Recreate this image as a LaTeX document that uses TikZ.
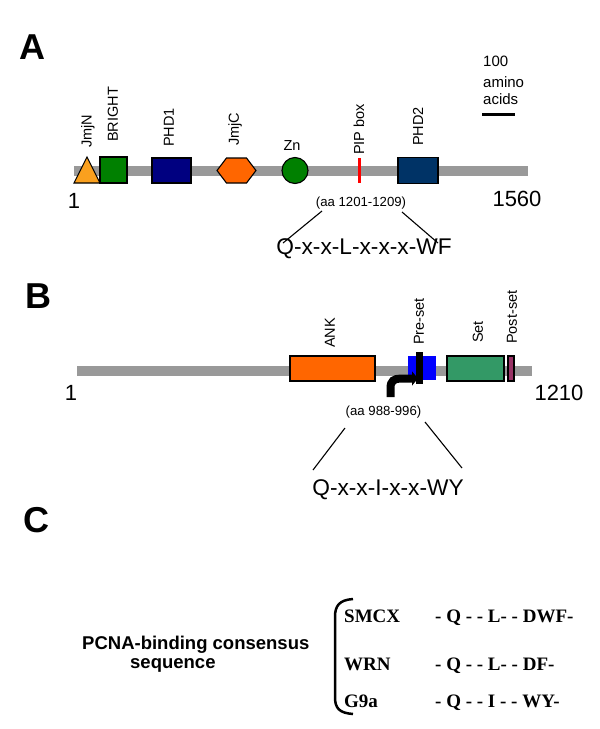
\documentclass[tikz,border=0pt]{standalone}
\usepackage{fontspec}
\setmainfont{Liberation Sans}
\newfontfamily\tms{Liberation Serif}
\usetikzlibrary{arrows.meta}
\definecolor{bargray}{RGB}{153,153,153}
\definecolor{jmjn}{RGB}{250,160,30}
\definecolor{bright}{RGB}{0,128,0}
\definecolor{phdone}{RGB}{0,0,128}
\definecolor{jmjc}{RGB}{255,102,0}
\definecolor{phdtwo}{RGB}{0,51,102}
\definecolor{preset}{RGB}{0,0,255}
\definecolor{setc}{RGB}{51,153,102}
\definecolor{postset}{RGB}{153,51,102}
\tikzset{
  dom/.style={draw=black, line width=1.1pt, inner sep=0pt},
  lab/.style={rotate=90, anchor=west, inner sep=0pt, font=\fontsize{14.5}{16}\selectfont},
  panel/.style={inner sep=0pt, font=\fontsize{36}{40}\selectfont\bfseries},
  endnum/.style={inner sep=0pt, font=\fontsize{22}{24}\selectfont},
  aa/.style={inner sep=0pt, font=\fontsize{13.2}{15}\selectfont},
  motif/.style={inner sep=0pt, font=\fontsize{22.7}{25}\selectfont},
  conn/.style={line width=1.1pt},
  bar/.style={line width=10pt, bargray},
  seqname/.style={inner sep=0pt, anchor=base west, font=\fontsize{19}{21}\selectfont\tms\bfseries},
}
\begin{document}
\begin{tikzpicture}[x=1pt,y=-1pt]
\useasboundingbox (0,0) rectangle (600,729);
\fill[white] (0,0) rectangle (600,729);

% ---------- Panel A ----------
\node[panel] (pA) at (32,47) {A};
\coordinate (abarL) at (74,171);
\coordinate (abarR) at (528,171);
\draw[bar] (abarL) -- (abarR);
\draw[dom, fill=jmjn] (74,183) -- (87,157) -- (100,183) -- cycle;
\node[dom, fill=bright, minimum width=27pt, minimum height=26pt] (brightbox) at (113.5,170) {};
\node[dom, fill=phdone, minimum width=39pt, minimum height=25pt] (phd1) at (171.5,170.5) {};
\draw[dom, fill=jmjc] (217,170.5) -- (226.5,158) -- (246.5,158) -- (256,170.5) -- (246.5,183) -- (226.5,183) -- cycle;
\node[dom, fill=bright, circle, minimum size=26pt] (zn) at (295,170.5) {};
\node[fill=red, inner sep=0pt, minimum width=3pt, minimum height=25pt] (pip) at (359,170.5) {};
\node[dom, fill=phdtwo, minimum width=40pt, minimum height=26pt] (phd2) at (418,170.5) {};

\node[lab] (ljmjn) at (88,148) {JmjN};
\node[lab] (lbright) at (113,142) {BRIGHT};
\node[lab] (lphd1) at (169,147) {PHD1};
\node[lab] (ljmjc) at (235,146) {JmjC};
\node[inner sep=0pt, font=\fontsize{14.5}{16}\selectfont] (lzn) at (292,146) {Zn};
\node[lab] (lpip) at (359,155) {PIP box};
\node[lab] (lphd2) at (418,146) {PHD2};

\node[endnum] (aone) at (74,201) {1};
\node[endnum] (aend) at (517,199) {1560};

\node[inner sep=0pt, anchor=base west, font=\fontsize{15}{17}\selectfont] (s100) at (483,66) {100};
\node[inner sep=0pt, anchor=base west, font=\fontsize{15}{17}\selectfont] (samino) at (483,87) {amino};
\node[inner sep=0pt, anchor=base west, font=\fontsize{15}{17}\selectfont] (sacids) at (483,104) {acids};
\coordinate (sbL) at (482,114);
\coordinate (sbR) at (515,114);
\draw[line width=3pt] (sbL) -- (sbR);

\node[aa] (aaA) at (361,203) {(aa 1201-1209)};
\node[motif] (motA) at (364,249) {Q-x-x-L-x-x-x-WF};
\coordinate (aL1) at (322,211);
\coordinate (aL2) at (283,243);
\coordinate (aR1) at (402,212);
\coordinate (aR2) at (438,243);
\draw[conn] (aL1) -- (aL2);
\draw[conn] (aR1) -- (aR2);

% ---------- Panel B ----------
\node[panel] (pB) at (38,296) {B};
\coordinate (bbarL) at (77,370.5);
\coordinate (bbarR) at (532,370.5);
\draw[bar] (bbarL) -- (bbarR);
\node[dom, fill=jmjc, minimum width=85pt, minimum height=25pt] (ank) at (332.5,368.5) {};
\node[fill=preset, inner sep=0pt, minimum width=28pt, minimum height=24pt] (pre) at (422,368) {};
\coordinate (arS) at (390.5,397);
\coordinate (arE) at (418,378.5);
\draw[line width=8pt, -{Triangle[length=6pt,width=14pt]}] (arS) -- (390.5,388) .. controls (390.5,381) and (394,378.5) .. (401,378.5) -- (arE);
\node[fill=black, inner sep=0pt, minimum width=7pt, minimum height=32pt] (pipB) at (419.5,368) {};
\node[dom, fill=setc, minimum width=57pt, minimum height=25pt] (setbox) at (475.5,368.5) {};
\node[dom, fill=postset, minimum width=6pt, minimum height=25pt] (post) at (511,368.5) {};

\node[lab] (lank) at (330,348) {ANK};
\node[lab] (lpre) at (419,345) {Pre-set};
\node[lab] (lset) at (478,343) {Set};
\node[lab] (lpost) at (512,344) {Post-set};

\node[endnum] (bone) at (71,393) {1};
\node[endnum] (bend) at (559,393) {1210};

\node[aa] (aaB) at (383.5,412) {(aa 988-996)};
\node[motif] (motB) at (388,490) {Q-x-x-I-x-x-WY};
\coordinate (bL1) at (345,428);
\coordinate (bL2) at (313,470);
\coordinate (bR1) at (425,422);
\coordinate (bR2) at (462,468);
\draw[conn] (bL1) -- (bL2);
\draw[conn] (bR1) -- (bR2);

% ---------- Panel C ----------
\node[panel] (pC) at (36,520) {C};
\node[inner sep=0pt, anchor=base west, font=\fontsize{18.5}{20}\selectfont\bfseries] (pcna1) at (82,649) {PCNA-binding consensus};
\node[inner sep=0pt, anchor=base west, font=\fontsize{18.5}{20}\selectfont\bfseries] (pcna2) at (130,668) {sequence};
\coordinate (brT) at (353,599);
\coordinate (brB) at (353,714);
\draw[line width=2.5pt] (brT) .. controls (339,600) and (335,606) .. (335,617) -- (335,697) .. controls (335,708) and (339,713) .. (brB);
\node[seqname] (smcx) at (344,622) {SMCX};
\node[seqname] (wrn) at (344,670) {WRN};
\node[seqname] (g9a) at (344,707) {G9a};
\node[seqname] (sq1) at (435,622) {- Q - - L- - DWF-};
\node[seqname] (sq2) at (435,670) {- Q - - L- - DF-};
\node[seqname] (sq3) at (435,707) {- Q - - I - - WY-};
\end{tikzpicture}
\end{document}
